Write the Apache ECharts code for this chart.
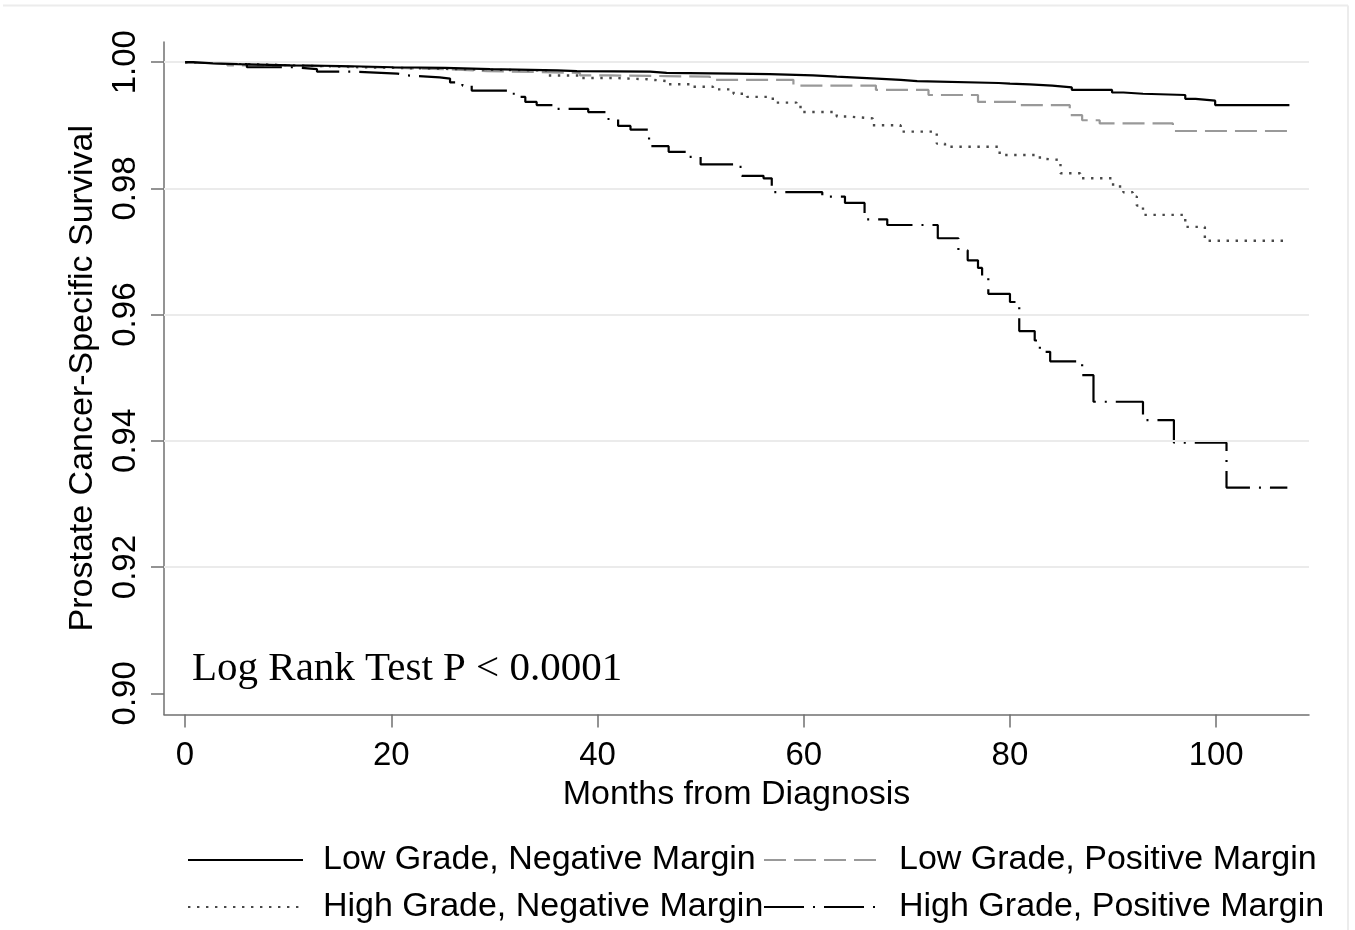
<!DOCTYPE html>
<html>
<head>
<meta charset="utf-8">
<script src="https://cdn.jsdelivr.net/npm/echarts@6/dist/echarts.min.js"></script>
<style>
html,body{margin:0;padding:0;background:#fff;}
#chart{width:1355px;height:930px;}
</style>
</head>
<body>
<div id="chart"></div>
<script>
// Tick labels
var xTicks = [0, 20, 40, 60, 80, 100];
var yTicks = [0.90, 0.92, 0.94, 0.96, 0.98, 1.00];
var yGrid = [0.92, 0.94, 0.96, 0.98, 1.00];

var seriesNames = [
  'Low Grade, Negative Margin',
  'Low Grade, Positive Margin',
  'High Grade, Negative Margin',
  'High Grade, Positive Margin'
];

// Kaplan-Meier step curves: [months, survival]
var lowNeg = [
  [0,1.0],[0.8,0.9998],[2.7,0.9997],[5.1,0.9995],[10.2,0.9994],[15.1,0.9992],[20.2,0.9991],
  [25.2,0.9989],[29.6,0.9987],[36.1,0.9986],[38.0,0.9985],[45.1,0.9983],[46.7,0.9982],
  [53.2,0.9981],[56.7,0.9979],[60.9,0.9977],[63.2,0.9974],[67.1,0.9972],[69.4,0.9970],
  [71.0,0.9967],[78.9,0.9966],[80.0,0.9965],[81.9,0.9963],[84.1,0.9960],[86.0,0.9956],
  [89.9,0.9952],[91.0,0.9950],[92.9,0.9948],[97.0,0.9942],[98.0,0.9939],[99.9,0.9932],
  [107.1,0.9932]
];
var lowPos = [
  [0,1.0],[4.1,0.9995],[10.2,0.9992],[18.2,0.9989],[25.2,0.9986],[29.3,0.9983],[38.3,0.9979],
  [41.2,0.9978],[46.7,0.9977],[50.9,0.9972],[59.0,0.9963],[67.0,0.9956],[72.1,0.9948],
  [76.9,0.9937],[81.0,0.9932],[85.8,0.9916],[87.0,0.9908],[88.7,0.9903],[95.8,0.9891],
  [107.1,0.9891]
];
var highNeg = [
  [0,1.0],[2.9,0.9998],[4.1,0.9995],[10.5,0.9992],[17.0,0.9990],[23.5,0.9988],[29.6,0.9987],
  [35.1,0.9979],[38.3,0.9975],[41.5,0.9973],[44.8,0.9970],[46.7,0.9965],[49.3,0.9961],
  [51.2,0.9957],[53.2,0.9950],[54.5,0.9945],[57.0,0.9936],[59.3,0.9929],[59.9,0.9921],
  [63.2,0.9914],[64.2,0.9911],[66.7,0.9900],[69.4,0.9890],[72.9,0.9871],[73.7,0.9866],
  [79.0,0.9853],[82.9,0.9847],[83.2,0.9845],[84.9,0.9824],[86.8,0.9816],[90.0,0.9803],
  [91.0,0.9794],[91.9,0.9787],[92.3,0.9773],[92.9,0.9758],[97.0,0.9739],[98.9,0.9717],
  [106.7,0.9717]
];
var highPos = [
  [0,1.0],[0.8,0.9997],[6.0,0.9992],[10.5,0.9989],[12.8,0.9985],[16.3,0.9982],[20.6,0.9979],
  [21.6,0.9976],[24.7,0.9974],[25.7,0.9968],[26.9,0.9963],[27.8,0.9955],[31.5,0.9950],
  [32.0,0.9945],[33.0,0.9937],[34.1,0.9932],[36.1,0.9926],[39.1,0.9921],[40.9,0.9910],
  [42.0,0.9899],[43.2,0.9893],[45.0,0.9867],[46.9,0.9858],[48.7,0.9850],[50.0,0.9838],
  [53.2,0.9834],[54.0,0.9820],[56.1,0.9816],[56.9,0.9794],[61.8,0.9787],[64.0,0.9777],
  [65.9,0.9751],[68.1,0.9742],[73.0,0.9721],[75.0,0.9702],[75.9,0.9686],[76.9,0.9674],
  [77.3,0.9661],[77.9,0.9633],[80.0,0.9620],[80.9,0.9574],[82.4,0.9559],[82.9,0.9541],
  [83.9,0.9526],[87.0,0.9504],[88.1,0.9462],[92.9,0.9433],[95.9,0.9397],[101.0,0.9326],
  [106.9,0.9326]
];

var SANS = 'Liberation Sans, Arial, sans-serif';
var SERIF = 'Liberation Serif, Times New Roman, serif';
var axisColor = '#707070';

function legendFor(name, left, top) {
  return {
    data: [name], left: left, top: top, orient: 'horizontal',
    itemWidth: 115, itemHeight: 14, padding: 0, selectedMode: false,
    itemStyle: { opacity: 0, color: 'rgba(0,0,0,0)', borderWidth: 0 },
    textStyle: { fontFamily: SANS, fontSize: 34, color: '#000', padding: [0, 0, 0, 15] }
  };
}

var chart = echarts.init(document.getElementById('chart'), null, { renderer: 'canvas' });
chart.setOption({
  animation: false,
  backgroundColor: '#fff',
  grid: { left: 164, right: 46, top: 42, bottom: 215.5, containLabel: false },
  title: {
    text: 'Log Rank Test P < 0.0001', left: 192, top: 649, padding: 0,
    textStyle: { fontFamily: SERIF, fontSize: 41, fontWeight: 'normal', color: '#000' }
  },
  legend: [
    legendFor(seriesNames[0], 187, 843),
    legendFor(seriesNames[1], 763, 843),
    legendFor(seriesNames[2], 187, 890),
    legendFor(seriesNames[3], 763, 890)
  ],
  xAxis: {
    type: 'value', min: -2.04, max: 109.0,
    name: 'Months from Diagnosis', nameLocation: 'middle', nameGap: 55,
    nameTextStyle: { fontFamily: SANS, fontSize: 34, color: '#000' },
    axisLine: { show: true, onZero: false, lineStyle: { color: axisColor, width: 1.5 } },
    axisTick: { show: true, length: 13, customValues: xTicks, lineStyle: { color: axisColor, width: 1.5 } },
    axisLabel: { customValues: xTicks, margin: 25, fontFamily: SANS, fontSize: 33, color: '#000' },
    splitLine: { show: false }
  },
  yAxis: {
    type: 'value', min: 0.89664, max: 1.0032,
    name: 'Prostate Cancer-Specific Survival', nameLocation: 'middle', nameGap: 64, nameRotate: 90,
    nameTextStyle: { fontFamily: SANS, fontSize: 34, color: '#000' },
    axisLine: { show: true, onZero: false, lineStyle: { color: axisColor, width: 1.5 } },
    axisTick: { show: true, length: 13, customValues: yTicks, lineStyle: { color: axisColor, width: 1.5 } },
    axisLabel: { customValues: yTicks, rotate: 90, margin: 22, fontFamily: SANS, fontSize: 33, color: '#000',
      formatter: function (v) { return v.toFixed(2); } },
    splitLine: { show: false }
  },
  series: [
    {
      type: 'line', data: [], z: 1, silent: true,
      markLine: {
        silent: true, symbol: ['none', 'none'], animation: false,
        label: { show: false },
        lineStyle: { color: '#ebebeb', width: 2, type: 'solid' },
        emphasis: { disabled: true },
        data: yGrid.map(function (v) { return { yAxis: v }; })
      }
    },
    {
      name: seriesNames[0], type: 'line', step: 'end', data: lowNeg, symbol: 'none', z: 5,
      lineStyle: { color: '#000', width: 2.2, type: 'solid' }, itemStyle: { color: '#000' }
    },
    {
      name: seriesNames[1], type: 'line', step: 'end', data: lowPos, symbol: 'none', z: 4,
      lineStyle: { color: '#999999', width: 2.2, type: [22, 8] }, itemStyle: { color: '#999999' }
    },
    {
      name: seriesNames[2], type: 'line', step: 'end', data: highNeg, symbol: 'none', z: 4,
      lineStyle: { color: '#484848', width: 2.4, type: [2.4, 6.6] }, itemStyle: { color: '#484848' }
    },
    {
      name: seriesNames[3], type: 'line', step: 'end', data: highPos, symbol: 'none', z: 4,
      lineStyle: { color: '#000', width: 2.2, type: [40, 9, 2, 9] }, itemStyle: { color: '#000' }
    }
  ],
  graphic: [
    { type: 'line', silent: true, shape: { x1: 3, y1: 5.5, x2: 1348, y2: 5.5 }, style: { stroke: '#ececec', lineWidth: 2 } },
    { type: 'line', silent: true, shape: { x1: 1348, y1: 5.5, x2: 1348, y2: 930 }, style: { stroke: '#ececec', lineWidth: 2 } }
  ]
});
</script>
</body>
</html>
